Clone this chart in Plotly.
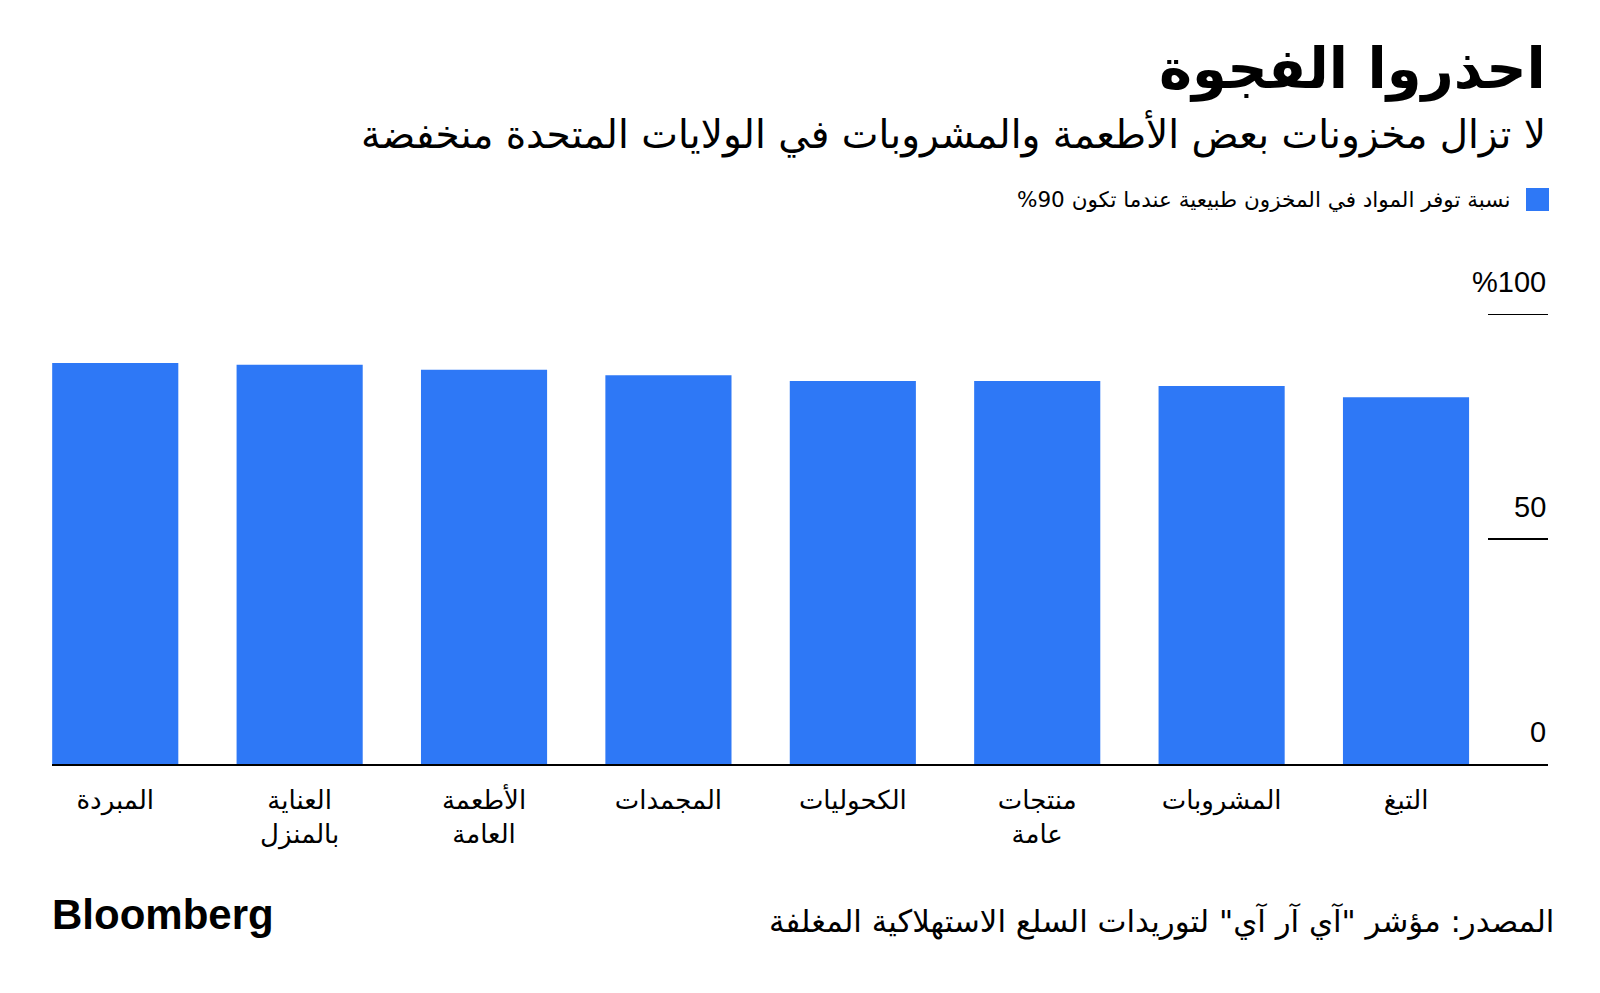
import plotly.graph_objects as go

categories = ["المبردة", "العناية<br>بالمنزل", "الأطعمة<br>العامة", "المجمدات",
              "الكحوليات", "منتجات<br>عامة", "المشروبات", "التبغ"]
values = [89.1, 88.7, 87.6, 86.4, 85.1, 85.1, 84.0, 81.5]
tick_values = [0, 50, 100]
tick_labels = ["0", "50", "%100"]

title = "احذروا الفجوة"
subtitle = "لا تزال مخزونات بعض الأطعمة والمشروبات في الولايات المتحدة منخفضة"
legend_text = "%90 نسبة توفر المواد في المخزون طبيعية عندما تكون"
source = "المصدر: مؤشر \"آي آر آي\" لتوريدات السلع الاستهلاكية المغلفة"

W, H = 1600, 993
L, R = 52, 1548
TOP, BOT = 314, 764
BLUE = "#2e78f6"
AR = "DejaVu Sans"
LAT = "Liberation Sans, Arial, sans-serif"


def py(p):
    return (BOT - p) / (BOT - TOP)


def px(p):
    return (p - L) / (R - L)


fig = go.Figure()
fig.add_trace(go.Bar(x=list(range(len(categories))), y=values,
                     marker=dict(color=BLUE, line=dict(width=0)),
                     hoverinfo="skip"))

fig.update_layout(
    width=W, height=H,
    margin=dict(l=L, r=W - R, t=TOP, b=H - BOT, pad=0),
    plot_bgcolor="white", paper_bgcolor="white",
    bargap=0.316, showlegend=False,
    font=dict(family=AR, color="#000000"),
)
fig.update_xaxes(
    range=[-0.343, 7.77],
    tickmode="array", tickvals=list(range(len(categories))), ticktext=categories,
    tickfont=dict(family=AR, size=26, color="#000"),
    showline=True, linecolor="#000", linewidth=2,
    ticks="", showgrid=False, zeroline=False, ticklabelstandoff=12,
)
fig.update_yaxes(range=[0, 100], showticklabels=False, showgrid=False,
                 zeroline=False, showline=False)

# right side tick segments and labels
for v, lab in zip(tick_values, tick_labels):
    if v > 0:
        fig.add_shape(type="line", xref="paper", yref="y",
                      x0=px(1488), x1=px(1548), y0=v, y1=v,
                      line=dict(color="#000", width=2))
    fig.add_annotation(xref="paper", yref="y", x=1.0, y=v, text=lab,
                       showarrow=False, xanchor="right", yanchor="bottom",
                       yshift=14, font=dict(family=LAT, size=29, color="#000"))

# titles
fig.add_annotation(xref="paper", yref="paper", x=1.0, y=py(69), text="<b>" + title + "</b>",
                   showarrow=False, xanchor="right", yanchor="middle",
                   font=dict(family=AR, size=56, color="#000"))
fig.add_annotation(xref="paper", yref="paper", x=1.0, y=py(134), text=subtitle,
                   showarrow=False, xanchor="right", yanchor="middle",
                   font=dict(family=AR, size=39, color="#000"))
# legend
fig.add_shape(type="rect", xref="paper", yref="paper",
              x0=px(1526), x1=px(1549), y0=py(211), y1=py(188),
              fillcolor=BLUE, line=dict(width=0))
fig.add_annotation(xref="paper", yref="paper", x=px(1512), y=py(199), text=legend_text,
                   showarrow=False, xanchor="right", yanchor="middle",
                   font=dict(family=AR, size=21.5, color="#000"))
# footer
fig.add_annotation(xref="paper", yref="paper", x=px(1556), y=py(921), text=source,
                   showarrow=False, xanchor="right", yanchor="middle",
                   font=dict(family=AR, size=30.8, color="#000"))
fig.add_annotation(xref="paper", yref="paper", x=px(50), y=py(914), text="<b>Bloomberg</b>",
                   showarrow=False, xanchor="left", yanchor="middle",
                   font=dict(family=LAT, size=42, color="#000"))

fig.write_html("out.html")
